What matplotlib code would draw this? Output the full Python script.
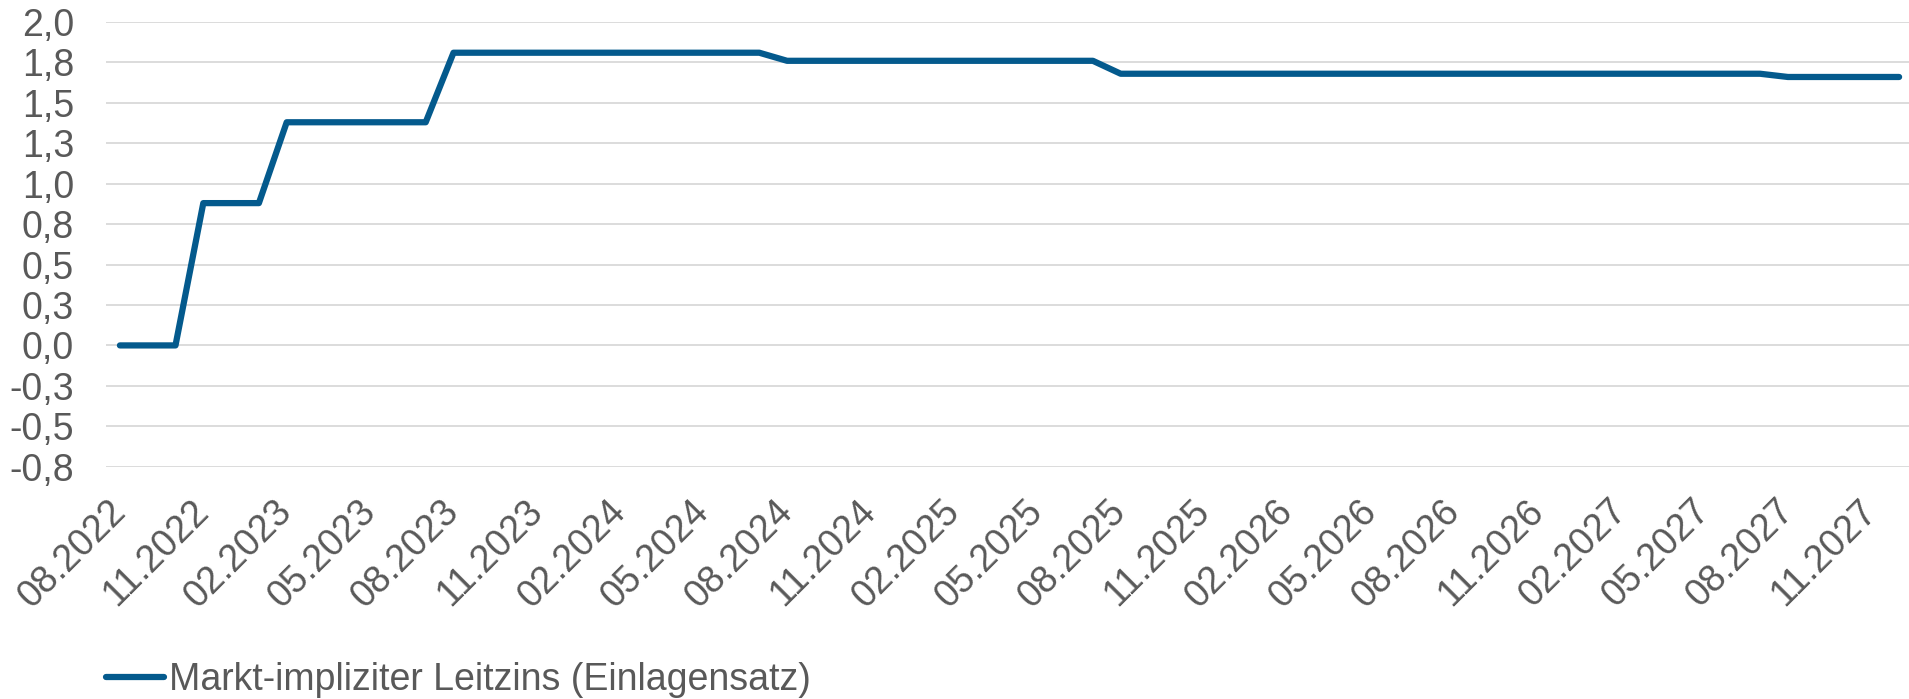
import numpy as np
import pandas as pd
import matplotlib
matplotlib.use("Agg")
import matplotlib.pyplot as plt

plt.rcParams['font.family'] = ['Liberation Sans', 'DejaVu Sans']

# monthly values, 08.2022 .. 12.2027
months = pd.date_range("2022-08-01", "2027-12-01", freq="MS").strftime("%m.%Y").tolist()
leitzins = ([0.0] * 3 + [0.88] * 3 + [1.38] * 6 + [1.81] * 12
            + [1.76] * 12 + [1.68] * 24 + [1.66] * 5)

y_ticks = [-0.75, -0.5, -0.25, 0.0, 0.25, 0.5, 0.75, 1.0, 1.25, 1.5, 1.75, 2.0]
y_labels = ["-0,8", "-0,5", "-0,3", "0,0", "0,3", "0,5", "0,8", "1,0", "1,3", "1,5", "1,8", "2,0"]

grey = "#595959"
blue = "#045A8D"

fig = plt.figure(figsize=(19.09, 6.99), dpi=100)
ax = fig.add_axes([106 / 1909, 1 - 466.7 / 699, (1913 - 106) / 1909, (466.7 - 22) / 699])

x = np.arange(len(months))
ax.plot(x, leitzins, color=blue, lw=4.5, solid_capstyle="round",
        solid_joinstyle="round", label="Markt-impliziter Leitzins (Einlagensatz)")

ax.set_xlim(-0.5, len(months) - 0.5)
ax.set_ylim(-0.75, 2.0)
ax.set_yticks(y_ticks)
ax.set_yticklabels(y_labels)
ax.set_xticks(x[::3])
ax.set_xticklabels(months[::3], rotation=45, ha="right", va="center",
                   rotation_mode="anchor")

ax.grid(axis="y", color="#D9D9D9", lw=1.3)
ax.set_axisbelow(True)
for s in ax.spines.values():
    s.set_visible(False)
ax.tick_params(axis="both", length=0, labelsize=27, colors=grey)
ax.tick_params(axis="y", pad=23)
ax.tick_params(axis="x", pad=28)

fig.legend(loc="center left", bbox_to_anchor=(106 / 1909, 1 - 680 / 699),
           frameon=False, fontsize=27, labelcolor=grey, handlelength=1.55,
           handletextpad=0.12, borderaxespad=0, borderpad=0)

fig.savefig("out.png", dpi=100)
